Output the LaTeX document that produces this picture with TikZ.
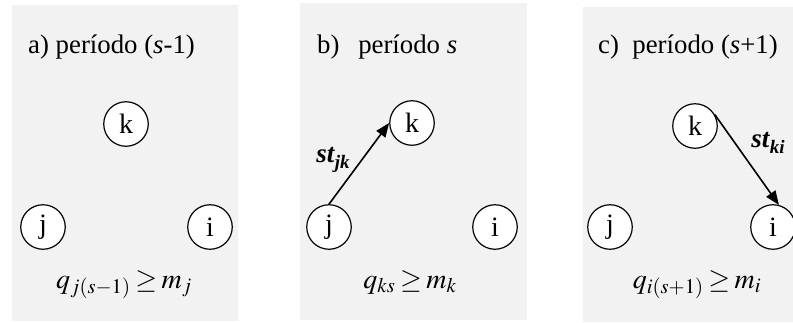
\documentclass[tikz,border=0pt]{standalone}
\usepackage{mathptmx}
\usepackage[no-math]{fontspec}
\setmainfont{Liberation Serif}
\usetikzlibrary{arrows.meta}
\newcommand{\bisub}[2]{\textbf{\textit{#1}}\raisebox{-0.25em}{\fontsize{19}{19}\selectfont\textbf{\textit{#2}}}}
\thickmuskip=3mu plus 1mu
\begin{document}
\begin{tikzpicture}[x=1pt,y=-1pt,
  panel/.style={fill=black!5,draw=none},
  vtx/.style={circle,draw,fill=white,line width=1.2pt,minimum size=44.5pt,inner sep=0pt,font=\fontsize{28}{28}\selectfont},
  ttl/.style={anchor=base west,inner sep=0pt,font=\fontsize{26.8}{27}\selectfont},
  frm/.style={anchor=base,inner sep=0pt,font=\fontsize{28}{28}\selectfont},
  lbl/.style={inner sep=0pt,font=\fontsize{27}{27}\selectfont},
  arr/.style={line width=1.6pt,-{Triangle[length=14pt,width=11pt]}}]
\useasboundingbox (0,0) rectangle (793,322);
\fill[white] (0,0) rectangle (793,322);
% panels
\path[panel] (12,5) rectangle (238,321);
\path[panel] (300,3) rectangle (527,320);
\path[panel] (583,7) rectangle (793,322);
% panel a
\node[ttl] (ta) at (28,53) {a) período (\textit{s}-1)};
\node[vtx] (ka) at (126,124) {k};
\node[vtx] (ja) at (43,227) {j};
\node[vtx] (ia) at (210,227) {i};
\node[frm] (fa) at (124,288) {$q_{j(s-1)}\geq m_{j}$};
% panel b
\node[ttl] (tb) at (317,53) {b)\hspace{0.7em}período \textit{s}};
\node[vtx] (kb) at (412,123) {k};
\node[vtx] (jb) at (329,227) {j};
\node[vtx] (ib) at (495,227) {i};
\node[frm] (fb) at (410,288) {$q_{ks}\geq m_{k}$};
\draw[arr] (jb.north) -- (kb.west);
\node[lbl] (lb) at (333,160) {\bisub{st}{jk}};
% panel c
\node[ttl] (tc) at (598,53) {c)\hspace{0.5em}período (\textit{s}+1)};
\node[vtx] (kc) at (695,126) {k};
\node[vtx] (jc) at (610,227) {j};
\node[vtx] (ic) at (773,227) {i};
\node[frm] (fc) at (697,288) {$q_{i(s+1)}\geq m_{i}$};
\draw[arr] (kc.30) -- (ic.75);
\node[lbl] (lc) at (768,143) {\bisub{st}{ki}};
\end{tikzpicture}
\end{document}
